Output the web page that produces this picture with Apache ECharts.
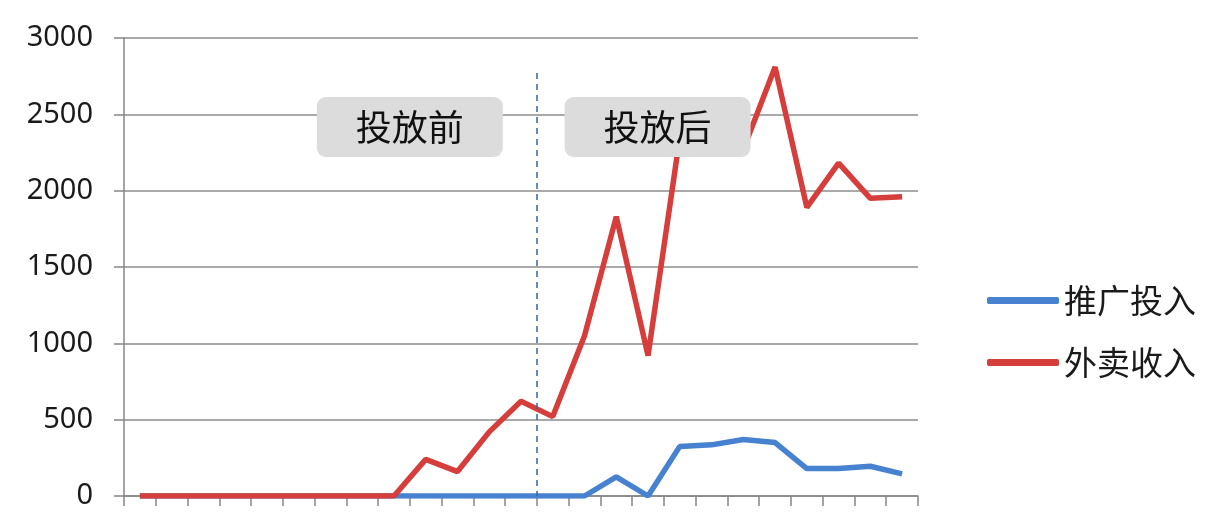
<!DOCTYPE html>
<html>
<head>
<meta charset="utf-8">
<script src="https://cdn.jsdelivr.net/npm/echarts@6/dist/echarts.min.js"></script>
<style>
html,body{margin:0;padding:0;background:#fff;}
#c{width:1230px;height:532px;}
</style>
</head>
<body>
<div id="c"></div>
<script>
var categories = ['1','2','3','4','5','6','7','8','9','10','11','12','13','14','15','16','17','18','19','20','21','22','23','24','25'];
var promoSpend = [0,0,0,0,0,0,0,0,0,0,0,0,0,0,0,125,0,325,335,370,350,180,180,195,145];
var deliveryRevenue = [0,0,0,0,0,0,0,0,0,240,160,420,620,520,1050,1830,920,2350,2300,2270,2810,1890,2180,1950,1960];
var seriesNames = ['推广投入','外卖收入'];
var yTicks = {min:0, max:3000, interval:500};
var dividerX = 13;           // boundary between category 13 and 14 (before / after)
var dividerTop = 2770;
var notes = [
  {name:'投放前', x:9.0, y:2417},
  {name:'投放后', x:16.8, y:2417}
];

var chart = echarts.init(document.getElementById('c'));
var fontCJK = '"Noto Sans CJK SC","Noto Sans",sans-serif';
chart.setOption({
  backgroundColor:'#ffffff',
  animation:false,
  grid:{left:124, right:312, top:38, bottom:36, containLabel:false},
  legend:{
    orient:'vertical', left:982, top:279,
    itemWidth:72, itemHeight:7, itemGap:29, itemTextGap:5,
    icon:'roundRect',
    textStyle:{fontSize:33, lineHeight:32, color:'#1a1a1a', fontFamily:fontCJK},
    data:seriesNames
  },
  xAxis:[{
    type:'category', data:categories, boundaryGap:true,
    axisLine:{lineStyle:{color:'#868686', width:1.5}},
    axisTick:{show:true, interval:0, length:10, lineStyle:{color:'#868686', width:1.5}},
    axisLabel:{show:false},
    splitLine:{show:false}
  },{
    type:'value', min:0, max:categories.length, show:false
  }],
  yAxis:{
    type:'value', min:yTicks.min, max:yTicks.max, interval:yTicks.interval,
    axisLine:{show:true, lineStyle:{color:'#868686', width:1.5}},
    axisTick:{show:true, length:10, lineStyle:{color:'#868686', width:1.5}},
    axisLabel:{fontSize:29, color:'#1a1a1a', margin:31, fontFamily:'"Noto Sans",sans-serif',
      formatter:function(v){return String(v);}},
    splitLine:{show:true, lineStyle:{color:'#8c8c8c', width:1.5}}
  },
  series:[
    {name:seriesNames[0], type:'line', data:promoSpend, symbol:'none',
     lineStyle:{color:'#4682cf', width:5.5}, itemStyle:{color:'#4682cf'}, z:2},
    {name:seriesNames[1], type:'line', data:deliveryRevenue, symbol:'none',
     lineStyle:{color:'#d63e3b', width:5.5}, itemStyle:{color:'#d63e3b'}, z:3},
    {name:'annot', type:'scatter', xAxisIndex:1, yAxisIndex:0, data:[], z:5,
     markLine:{
       silent:true, symbol:'none',
       lineStyle:{color:'#2f67a6', width:1.5, type:[6,5]},
       label:{show:false},
       data:[[{coord:[dividerX, dividerTop]},{coord:[dividerX, 0]}]]
     },
     markPoint:{
       silent:true, symbol:'rect', symbolSize:1,
       itemStyle:{color:'rgba(0,0,0,0)'},
       label:{show:true, position:'inside', formatter:'{b}',
         fontSize:36, color:'#111', fontFamily:fontCJK,
         backgroundColor:'#dcdcdc', borderRadius:9,
         width:186, height:60, lineHeight:60, align:'center', verticalAlign:'middle'},
       data:notes.map(function(n){return {name:n.name, coord:[n.x, n.y]};})
     }
    }
  ]
});
</script>
</body>
</html>
